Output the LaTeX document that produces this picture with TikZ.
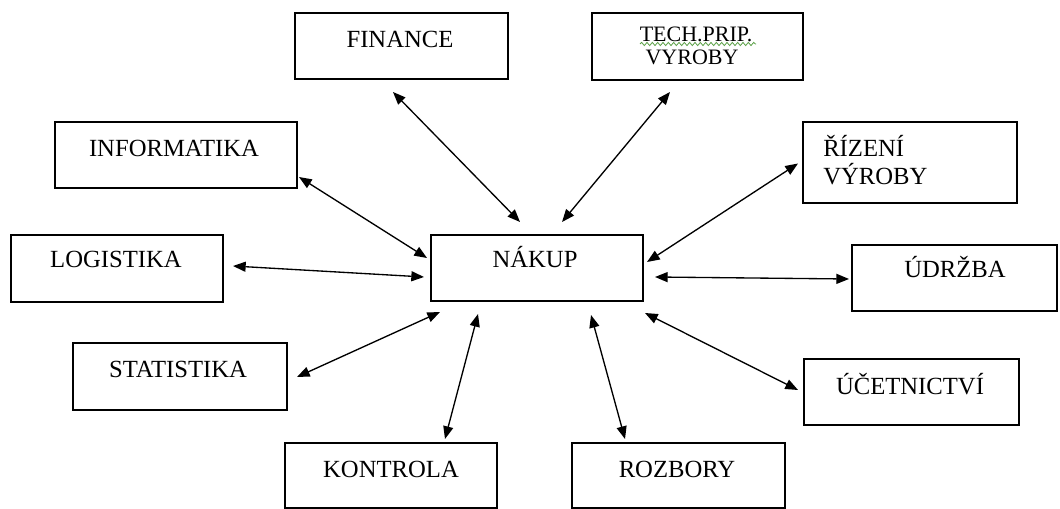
\documentclass[tikz,border=0pt]{standalone}
\usepackage{fontspec}
\setmainfont{Liberation Serif}
\usetikzlibrary{arrows.meta,calc,decorations.pathmorphing}
\begin{document}
\begin{tikzpicture}[x=0.75pt,y=-0.75pt,
  box/.style n args={2}{draw=black,line width=1.1pt,inner sep=0pt,outer sep=0pt,
    minimum width=#1*0.75pt,minimum height=#2*0.75pt},
  lbl/.style={inner sep=0pt,font=\fontsize{18.5}{22}\selectfont,anchor=base},
  lblsmall/.style={inner sep=0pt,font=\fontsize{16.5}{18}\selectfont,anchor=base},
  lblleft/.style={inner sep=0pt,font=\fontsize{18.5}{22}\selectfont,anchor=base west},
  link/.style={line width=1pt,{Triangle[length=9.5pt,width=7.5pt]}-{Triangle[length=9.5pt,width=7.5pt]}},
  spell/.style={draw={rgb,255:red,90;green,160;blue,70},line width=0.6pt,
    decorate,decoration={snake,segment length=4,amplitude=1.2}}
]
\useasboundingbox[fill=white] (0,0) rectangle (1060,509);

% boxes
\node[box={213}{66}] (fin)  at (401.5,46) {};
\node[box={211}{67}] (tech) at (697.5,46.5) {};
\node[box={242}{66}] (inf)  at (176,155) {};
\node[box={214}{81}] (riz)  at (910,162.5) {};
\node[box={212}{67}] (log)  at (117,268.5) {};
\node[box={212}{66}] (nak)  at (537,268) {};
\node[box={205}{66}] (udr)  at (954.5,278) {};
\node[box={214}{67}] (sta)  at (180,376.5) {};
\node[box={215}{66}] (uce)  at (911.5,392) {};
\node[box={212}{65}] (kon)  at (391,475.5) {};
\node[box={213}{65}] (roz)  at (678.5,475.5) {};

% labels
\node[lbl] (tfin) at (400,48) {FINANCE};
\node[lblsmall] (ttech1) at (696,42) {TECH.PRIP.};
\node[lblsmall] (ttech2) at (692,65) {VYROBY};
\draw[spell] (640,44) -- (756,44);
\node[lbl] (tinf) at (174,157) {INFORMATIKA};
\node[lblleft] (triz1) at (823,157) {ŘÍZENÍ};
\node[lblleft] (triz2) at (823,185) {VÝROBY};
\node[lbl] (tlog) at (116,268) {LOGISTIKA};
\node[lbl] (tnak) at (535,268) {NÁKUP};
\node[lbl] (tudr) at (955,278) {ÚDRŽBA};
\node[lbl] (tsta) at (178,378) {STATISTIKA};
\node[lbl] (tuce) at (910,395) {ÚČETNICTVÍ};
\node[lbl] (tkon) at (391,477) {KONTROLA};
\node[lbl] (troz) at (677,477) {ROZBORY};

% connectors
\draw[link] ($(fin.south)+(-8.5,13)$) -- ($(nak.north)+(-17,-13)$);
\draw[link] ($(tech.south)+(-27.5,12)$) -- ($(nak.north)+(25,-13)$);
\draw[link] ($(inf.south east)+(2,-11)$) -- ($(nak.west)+(-4,-10)$);
\draw[link] ($(riz.west)+(-5,1)$) -- ($(nak.east)+(4,-6)$);
\draw[link] ($(log.east)+(10,-2.5)$) -- ($(nak.west)+(-7,9)$);
\draw[link] ($(udr.west)+(-3,1)$) -- ($(nak.east)+(12,9)$);
\draw[link] ($(sta.east)+(10,0.5)$) -- ($(nak.south west)+(9,11)$);
\draw[link] ($(uce.west)+(-6,-2)$) -- ($(nak.south east)+(2,12)$);
\draw[link] ($(kon.north)+(54,-4)$) -- ($(nak.south)+(-59,13)$);
\draw[link] ($(roz.north)+(-53.5,-4)$) -- ($(nak.south)+(54,14)$);
\end{tikzpicture}
\end{document}
